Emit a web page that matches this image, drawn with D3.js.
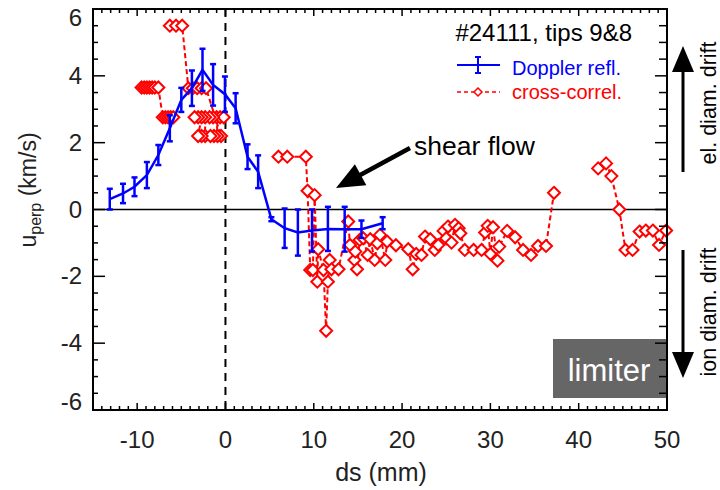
<!DOCTYPE html>
<html>
<head>
<meta charset="utf-8">
<script src="https://cdn.jsdelivr.net/npm/d3@7"></script>
<style>
  body { margin: 0; background: #fff; }
  text { font-family: "Liberation Sans", Arial, Helvetica, sans-serif; }
</style>
</head>
<body>
<div id="chart"></div>
<script>
const width = 720;
const height = 490;

// Doppler reflectometry (blue, with error bars)
const dopX = [-13.1, -11.6, -10.3, -8.9, -7.6, -6.3, -5.0, -3.8, -2.6, -1.4, -0.06, 1.15, 2.5, 3.7, 5.2, 6.7, 8.2, 9.8, 11.6, 13.5, 15.4, 17.8];
const dopV = [0.31, 0.48, 0.68, 1.03, 1.63, 2.43, 3.28, 3.63, 4.18, 3.73, 3.45, 3.03, 1.58, 1.13, -0.29, -0.56, -0.69, -0.63, -0.58, -0.59, -0.59, -0.41];
const dopErr = [0.31, 0.29, 0.28, 0.39, 0.30, 0.39, 0.36, 0.53, 0.63, 0.62, 0.53, 0.45, 0.37, 0.49, 0.06, 0.59, 0.69, 0.63, 0.66, 0.67, 0.26, 0.18];

// cross-correlation (red), NaN = break in the dashed line
const ccX = [
  -9.5, -9.2, -8.9, -8.6, -8.3, -8.0, -7.6, -7.1, -6.8, -6.5, -6.2, -5.9, NaN,
  -6.3, -5.6, -4.9, -4.2, -3.7, -3.2, -2.7, -2.2, -0.5, -0.9, -1.0, -0.6, -0.2,
  -1.4, -1.8, -2.3, -2.3, -1.3, -1.7, -2.7, -3.1, -2.7, -3.1, -3.5, NaN,
  6.0, 7.0, 9.1, 9.3, 9.6, 9.9, 10.1, 10.4, 10.5, 11.1, 11.4, 11.6, 11.8, 12.0,
  12.8, 13.9, 14.1, 14.6, 14.7, 14.9, 15.2, 15.6, 16.1, 16.4, 16.9, 17.2, 17.5,
  18.1, 18.3, 19.3, 20.7, 21.2, 21.6, 22.2, 22.6, 23.2, 23.7, 24.1, 24.7, 25.0,
  25.2, 25.6, 26.0, 26.4, 26.6, 27.1, 28.1, 29.0, 29.4, 29.7, 30.0, 30.3, 30.8,
  31.0, 31.9, 32.8, 33.7, 34.6, 35.4, 36.3, 37.2, NaN,
  42.2, 43.1, 43.7, 44.6, 45.3, 46.1, 46.9, 47.6, 48.4, 49.1, 49.9
];
const ccV = [
  3.65, 3.65, 3.65, 3.65, 3.65, 3.65, 3.65, 2.76, 2.76, 2.76, 2.76, 2.76, NaN,
  5.5, 5.5, 5.5, 3.63, 3.63, 3.63, 3.63, 3.63, 2.2, 2.2, 2.76, 2.76, 2.76,
  2.76, 2.76, 2.76, 2.2, 2.2, 2.2, 2.2, 2.2, 2.76, 2.76, 2.76, NaN,
  1.58, 1.58, 1.58, 0.56, -1.81, -1.81, 0.43, -2.16, -1.19, -1.81, -3.63, -2.16, -1.51, -1.79,
  -1.79, -0.36, -1.06, -1.51, -1.26, -1.79, -0.91, -0.86, -1.36, -0.89, -1.51, -1.01, -0.76,
  -1.51, -0.96, -1.07, -1.19, -1.79, -1.33, -1.36, -0.81, -0.89, -1.21, -1.06, -0.64, -0.86,
  -0.51, -0.99, -0.46, -0.56, -0.71, -1.21, -1.21, -1.21, -0.69, -0.49, -1.33, -0.53, -1.53,
  -1.11, -0.64, -0.83, -1.21, -1.36, -1.09, -1.09, 0.5, NaN,
  1.23, 1.38, 1.0, 0.0, -1.21, -1.21, -0.66, -0.63, -0.63, -1.06, -0.63
];

const xTicks = [-10, 0, 10, 20, 30, 40, 50];
const yTicks = [-6, -4, -2, 0, 2, 4, 6];

const pLeft = 93, pRight = 667, pTop = 9, pBottom = 410;
const x = d3.scaleLinear().domain([-15, 50]).range([pLeft, pRight]);
const y = d3.scaleLinear().domain([-6, 6]).range([pBottom, pTop]);

const svg = d3.select("#chart").append("svg")
  .attr("width", width).attr("height", height);

const blue = "#0000ff";
const red = "#ff0000";

// zero line and x=0 dashed line
svg.append("line")
  .attr("x1", pLeft).attr("x2", pRight).attr("y1", y(0)).attr("y2", y(0))
  .attr("stroke", "#000").attr("stroke-width", 1.5);
svg.append("line")
  .attr("x1", x(0)).attr("x2", x(0)).attr("y1", pTop).attr("y2", pBottom)
  .attr("stroke", "#000").attr("stroke-width", 2).attr("stroke-dasharray", "8,6");

// limiter box
svg.append("rect")
  .attr("x", 553).attr("y", 339).attr("width", pRight - 553).attr("height", 59)
  .attr("fill", "#666666");
svg.append("text")
  .attr("x", 609).attr("y", 381).attr("text-anchor", "middle")
  .attr("fill", "#fff").style("font-size", "31px").text("limiter");

// cross-correl series
const cc = ccX.map((v, i) => ({ x: v, y: ccV[i] }));
const line = d3.line()
  .defined((d) => !isNaN(d.x))
  .x((d) => x(d.x)).y((d) => y(d.y));

svg.append("path")
  .datum(cc)
  .attr("d", line)
  .attr("fill", "none").attr("stroke", red)
  .attr("stroke-width", 2).attr("stroke-dasharray", "5,3");

const diamond = (r) => `M0,${-r}L${r},0L0,${r}L${-r},0Z`;
svg.selectAll(".cc")
  .data(cc.filter((d) => !isNaN(d.x)))
  .join("path")
  .attr("class", "cc")
  .attr("d", diamond(6))
  .attr("transform", (d) => `translate(${x(d.x)},${y(d.y)})`)
  .attr("fill", "#fff").attr("stroke", red).attr("stroke-width", 2);

// Doppler series
const dop = dopX.map((v, i) => ({ x: v, y: dopV[i], e: dopErr[i] }));
svg.append("path")
  .datum(dop)
  .attr("d", d3.line().x((d) => x(d.x)).y((d) => y(d.y)))
  .attr("fill", "none").attr("stroke", blue).attr("stroke-width", 2.5);

const eb = svg.selectAll(".eb").data(dop).join("g").attr("class", "eb")
  .attr("stroke", blue).attr("stroke-width", 2.5);
eb.append("line")
  .attr("x1", (d) => x(d.x)).attr("x2", (d) => x(d.x))
  .attr("y1", (d) => y(d.y + d.e)).attr("y2", (d) => y(d.y - d.e));
eb.append("line")
  .attr("x1", (d) => x(d.x) - 3).attr("x2", (d) => x(d.x) + 3)
  .attr("y1", (d) => y(d.y + d.e)).attr("y2", (d) => y(d.y + d.e));
eb.append("line")
  .attr("x1", (d) => x(d.x) - 3).attr("x2", (d) => x(d.x) + 3)
  .attr("y1", (d) => y(d.y - d.e)).attr("y2", (d) => y(d.y - d.e));

// frame and ticks
svg.append("rect")
  .attr("x", pLeft).attr("y", pTop).attr("width", pRight - pLeft).attr("height", pBottom - pTop)
  .attr("fill", "none").attr("stroke", "#000").attr("stroke-width", 2);

const ticks = svg.append("g").attr("stroke", "#000").attr("stroke-width", 1.5);
d3.range(-15, 50.01, 1).forEach((v) => {
  const major = v % 10 === 0;
  const len = major ? 7 : 4;
  ticks.append("line").attr("x1", x(v)).attr("x2", x(v)).attr("y1", pBottom).attr("y2", pBottom - len);
  ticks.append("line").attr("x1", x(v)).attr("x2", x(v)).attr("y1", pTop).attr("y2", pTop + len);
});
d3.range(-6, 6.01, 0.5).forEach((v) => {
  const major = v % 2 === 0;
  ticks.append("line").attr("y1", y(v)).attr("y2", y(v)).attr("x1", pLeft).attr("x2", pLeft + (major ? 12 : 5));
  ticks.append("line").attr("y1", y(v)).attr("y2", y(v)).attr("x1", pRight).attr("x2", pRight - (major ? 12 : 8));
});

// tick labels
svg.selectAll(".xl").data(xTicks).join("text")
  .attr("x", (d) => x(d)).attr("y", 448).attr("text-anchor", "middle")
  .style("font-size", "24px").attr("fill", "#222").text((d) => d);
svg.selectAll(".yl").data(yTicks).join("text")
  .attr("x", 82).attr("y", (d) => Math.min(Math.max(y(d), 18), 402) + 8)
  .attr("text-anchor", "end")
  .style("font-size", "24px").attr("fill", "#222").text((d) => d);

// axis titles
svg.append("text")
  .attr("x", 381).attr("y", 481).attr("text-anchor", "middle")
  .style("font-size", "25px").attr("fill", "#222").text("ds (mm)");
const yt = svg.append("text")
  .attr("transform", "translate(36,190) rotate(-90)")
  .attr("text-anchor", "middle").style("font-size", "23px").attr("fill", "#222");
yt.append("tspan").text("u");
yt.append("tspan").attr("dy", 5).style("font-size", "16px").text("perp");
yt.append("tspan").attr("dy", -5).text(" (km/s)");

// legend
svg.append("text")
  .attr("x", 632).attr("y", 41).attr("text-anchor", "end")
  .style("font-size", "24px").attr("fill", "#000").text("#24111, tips 9&8");
const lg = svg.append("g");
lg.append("line").attr("x1", 457).attr("x2", 500).attr("y1", 65).attr("y2", 65)
  .attr("stroke", blue).attr("stroke-width", 2);
lg.append("line").attr("x1", 478).attr("x2", 478).attr("y1", 57).attr("y2", 73)
  .attr("stroke", blue).attr("stroke-width", 2);
lg.append("line").attr("x1", 475).attr("x2", 481).attr("y1", 57).attr("y2", 57)
  .attr("stroke", blue).attr("stroke-width", 2);
lg.append("line").attr("x1", 475).attr("x2", 481).attr("y1", 73).attr("y2", 73)
  .attr("stroke", blue).attr("stroke-width", 2);
lg.append("text").attr("x", 512).attr("y", 75).style("font-size", "20px")
  .attr("fill", blue).text("Doppler refl.");
lg.append("line").attr("x1", 457).attr("x2", 500).attr("y1", 92).attr("y2", 92)
  .attr("stroke", red).attr("stroke-width", 1.5).attr("stroke-dasharray", "4,3");
lg.append("path").attr("d", diamond(4)).attr("transform", "translate(478,92)")
  .attr("fill", "#fff").attr("stroke", red).attr("stroke-width", 1.5);
lg.append("text").attr("x", 512).attr("y", 99).style("font-size", "20px")
  .attr("fill", red).text("cross-correl.");

// arrows
function arrow(x1, y1, x2, y2, w, hl, hw) {
  const dx = x2 - x1, dy = y2 - y1, L = Math.hypot(dx, dy);
  const ux = dx / L, uy = dy / L;
  const bx = x2 - ux * hl, by = y2 - uy * hl;
  svg.append("line").attr("x1", x1).attr("y1", y1).attr("x2", bx + ux).attr("y2", by + uy)
    .attr("stroke", "#000").attr("stroke-width", w);
  svg.append("path")
    .attr("d", `M${x2},${y2}L${bx - uy * hw},${by + ux * hw}L${bx + uy * hw},${by - ux * hw}Z`)
    .attr("fill", "#000");
}
arrow(410, 148, 336, 188, 4.5, 28, 12);
arrow(683, 172, 683, 46, 3, 26, 11);
arrow(683, 250, 683, 378, 3, 26, 11);

svg.append("text")
  .attr("x", 414).attr("y", 155).style("font-size", "26.5px").attr("fill", "#000")
  .text("shear flow");
svg.append("text")
  .attr("transform", "translate(716,103) rotate(-90)").attr("text-anchor", "middle")
  .style("font-size", "21.5px").attr("fill", "#000").text("el. diam. drift");
svg.append("text")
  .attr("transform", "translate(716,312) rotate(-90)").attr("text-anchor", "middle")
  .style("font-size", "21.5px").attr("fill", "#000").text("ion diam. drift");
</script>
</body>
</html>
